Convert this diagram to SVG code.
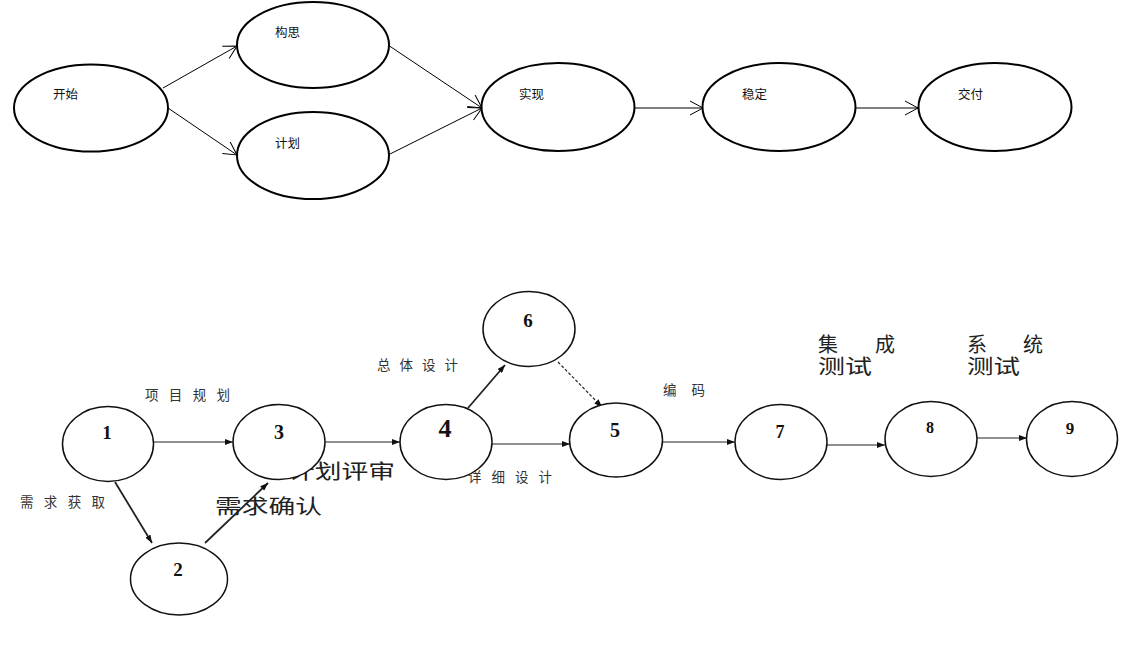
<svg xmlns="http://www.w3.org/2000/svg" width="1122" height="650" viewBox="0 0 1122 650">
<defs>
<style>
.top{fill:#fff;stroke:#000;stroke-width:2}
.bot{fill:#fff;stroke:#111;stroke-width:1.5}
.tl{font-family:"Noto Sans CJK SC","Noto Sans",sans-serif;font-size:12.5px;fill:#111;dominant-baseline:central}
.lbl{font-family:"Liberation Serif","Noto Sans CJK SC",serif;fill:#333;dominant-baseline:central}
.s{font-size:13.5px}
.b{font-size:20px;fill:#222}
.num{font-family:"Liberation Serif",serif;font-weight:bold;fill:#111;text-anchor:middle;dominant-baseline:central}
.ta{fill:none;stroke:#000;stroke-width:1}
.ba{fill:none;stroke:#222;stroke-width:1.2}
.thick{stroke-width:1.8}
.dash{stroke-dasharray:3 2}
</style>
<marker id="open" markerUnits="userSpaceOnUse" viewBox="0 0 15 16" refX="14" refY="8" markerWidth="15" markerHeight="16" orient="auto">
<path d="M1,1 L14,8 L1,15" fill="none" stroke="#000" stroke-width="1"/>
</marker>
<marker id="fill" markerUnits="userSpaceOnUse" viewBox="0 0 8 6" refX="8" refY="3" markerWidth="8" markerHeight="6" orient="auto">
<path d="M0,0 L8,3 L0,6 z" fill="#111"/>
</marker>
</defs>
<rect width="1122" height="650" fill="#fff"/>

<g id="connectors">
<line class="ta" x1="163" y1="88" x2="237" y2="46" marker-end="url(#open)"/>
<line class="ta" x1="168" y1="108" x2="237" y2="155" marker-end="url(#open)"/>
<line class="ta" x1="388" y1="45" x2="482" y2="108" marker-end="url(#open)"/>
<line class="ta" x1="388" y1="155" x2="482" y2="108" marker-end="url(#open)"/>
<line class="ta" x1="635" y1="108" x2="703" y2="108" marker-end="url(#open)"/>
<line class="ta" x1="855" y1="108" x2="918" y2="108" marker-end="url(#open)"/>

<line class="ba" x1="154" y1="442" x2="233" y2="442" marker-end="url(#fill)"/>
<line class="ba thick" x1="115" y1="482" x2="152" y2="543" marker-end="url(#fill)"/>
<line class="ba thick" x1="205" y1="543" x2="268" y2="483" marker-end="url(#fill)"/>
<line class="ba" x1="325" y1="442" x2="400" y2="442" marker-end="url(#fill)"/>
<line class="ba thick" x1="468" y1="408" x2="505" y2="365" marker-end="url(#fill)"/>
<line class="ba dash" x1="558" y1="362" x2="602" y2="407" marker-end="url(#fill)"/>
<line class="ba" x1="492" y1="444" x2="570" y2="444" marker-end="url(#fill)"/>
<line class="ba" x1="663" y1="442" x2="735" y2="442" marker-end="url(#fill)"/>
<line class="ba" x1="827" y1="445" x2="885" y2="445" marker-end="url(#fill)"/>
<line class="ba" x1="977" y1="438" x2="1027" y2="438" marker-end="url(#fill)"/>

<text class="lbl s" x="145" y="395" textLength="85">项目规划</text>
<text class="lbl s" x="20" y="502" textLength="85">需求获取</text>
<text class="lbl b" x="215" y="507" textLength="107" lengthAdjust="spacingAndGlyphs">需求确认</text>
<text class="lbl b" x="288" y="472" textLength="107" lengthAdjust="spacingAndGlyphs">计划评审</text>
<text class="lbl s" x="377" y="365" textLength="81">总体设计</text>
<text class="lbl s" x="468" y="477" textLength="84">详细设计</text>
<text class="lbl s" x="663" y="390" textLength="42">编码</text>
<text class="lbl b" x="818" y="345" textLength="77">集 成</text>
<text class="lbl b" x="818" y="367" textLength="54" lengthAdjust="spacingAndGlyphs">测试</text>
<text class="lbl b" x="967" y="345" textLength="76">系 统</text>
<text class="lbl b" x="967" y="367" textLength="53" lengthAdjust="spacingAndGlyphs">测试</text>
</g>

<g id="n-start"><ellipse class="top" cx="91" cy="108" rx="77" ry="43.5"/><text class="tl" x="53" y="93">开始</text></g>
<g id="n-idea"><ellipse class="top" cx="313" cy="45" rx="76" ry="43"/><text class="tl" x="275" y="31">构思</text></g>
<g id="n-plan"><ellipse class="top" cx="313" cy="155.5" rx="76" ry="43.5"/><text class="tl" x="275" y="142">计划</text></g>
<g id="n-impl"><ellipse class="top" cx="558" cy="107" rx="76.5" ry="44"/><text class="tl" x="519" y="93">实现</text></g>
<g id="n-stable"><ellipse class="top" cx="779" cy="107" rx="76.5" ry="44"/><text class="tl" x="742" y="93">稳定</text></g>
<g id="n-deliver"><ellipse class="top" cx="995" cy="107" rx="76.5" ry="44"/><text class="tl" x="958" y="93">交付</text></g>

<g id="node1"><ellipse class="bot" cx="108" cy="444" rx="45.5" ry="37.5"/><text class="num" x="107" y="432" font-size="19">1</text></g>
<g id="node2"><ellipse class="bot" cx="179" cy="579" rx="48.5" ry="36"/><text class="num" x="178" y="569" font-size="19">2</text></g>
<g id="node3"><ellipse class="bot" cx="279" cy="442" rx="46" ry="37.5"/><text class="num" x="279" y="432" font-size="20">3</text></g>
<g id="node4"><ellipse class="bot" cx="446" cy="442" rx="46" ry="37.5"/><text class="num" x="445" y="428" font-size="26">4</text></g>
<g id="node5"><ellipse class="bot" cx="616" cy="440" rx="46.5" ry="37"/><text class="num" x="615" y="430" font-size="20">5</text></g>
<g id="node6"><ellipse class="bot" cx="529" cy="329" rx="46" ry="37.5"/><text class="num" x="528" y="320" font-size="19">6</text></g>
<g id="node7"><ellipse class="bot" cx="781" cy="442" rx="46" ry="37.5"/><text class="num" x="780" y="432" font-size="18">7</text></g>
<g id="node8"><ellipse class="bot" cx="931" cy="439" rx="46" ry="37.5"/><text class="num" x="930" y="427" font-size="16">8</text></g>
<g id="node9"><ellipse class="bot" cx="1072" cy="439" rx="45.5" ry="37.5"/><text class="num" x="1070" y="428" font-size="17">9</text></g>
</svg>
